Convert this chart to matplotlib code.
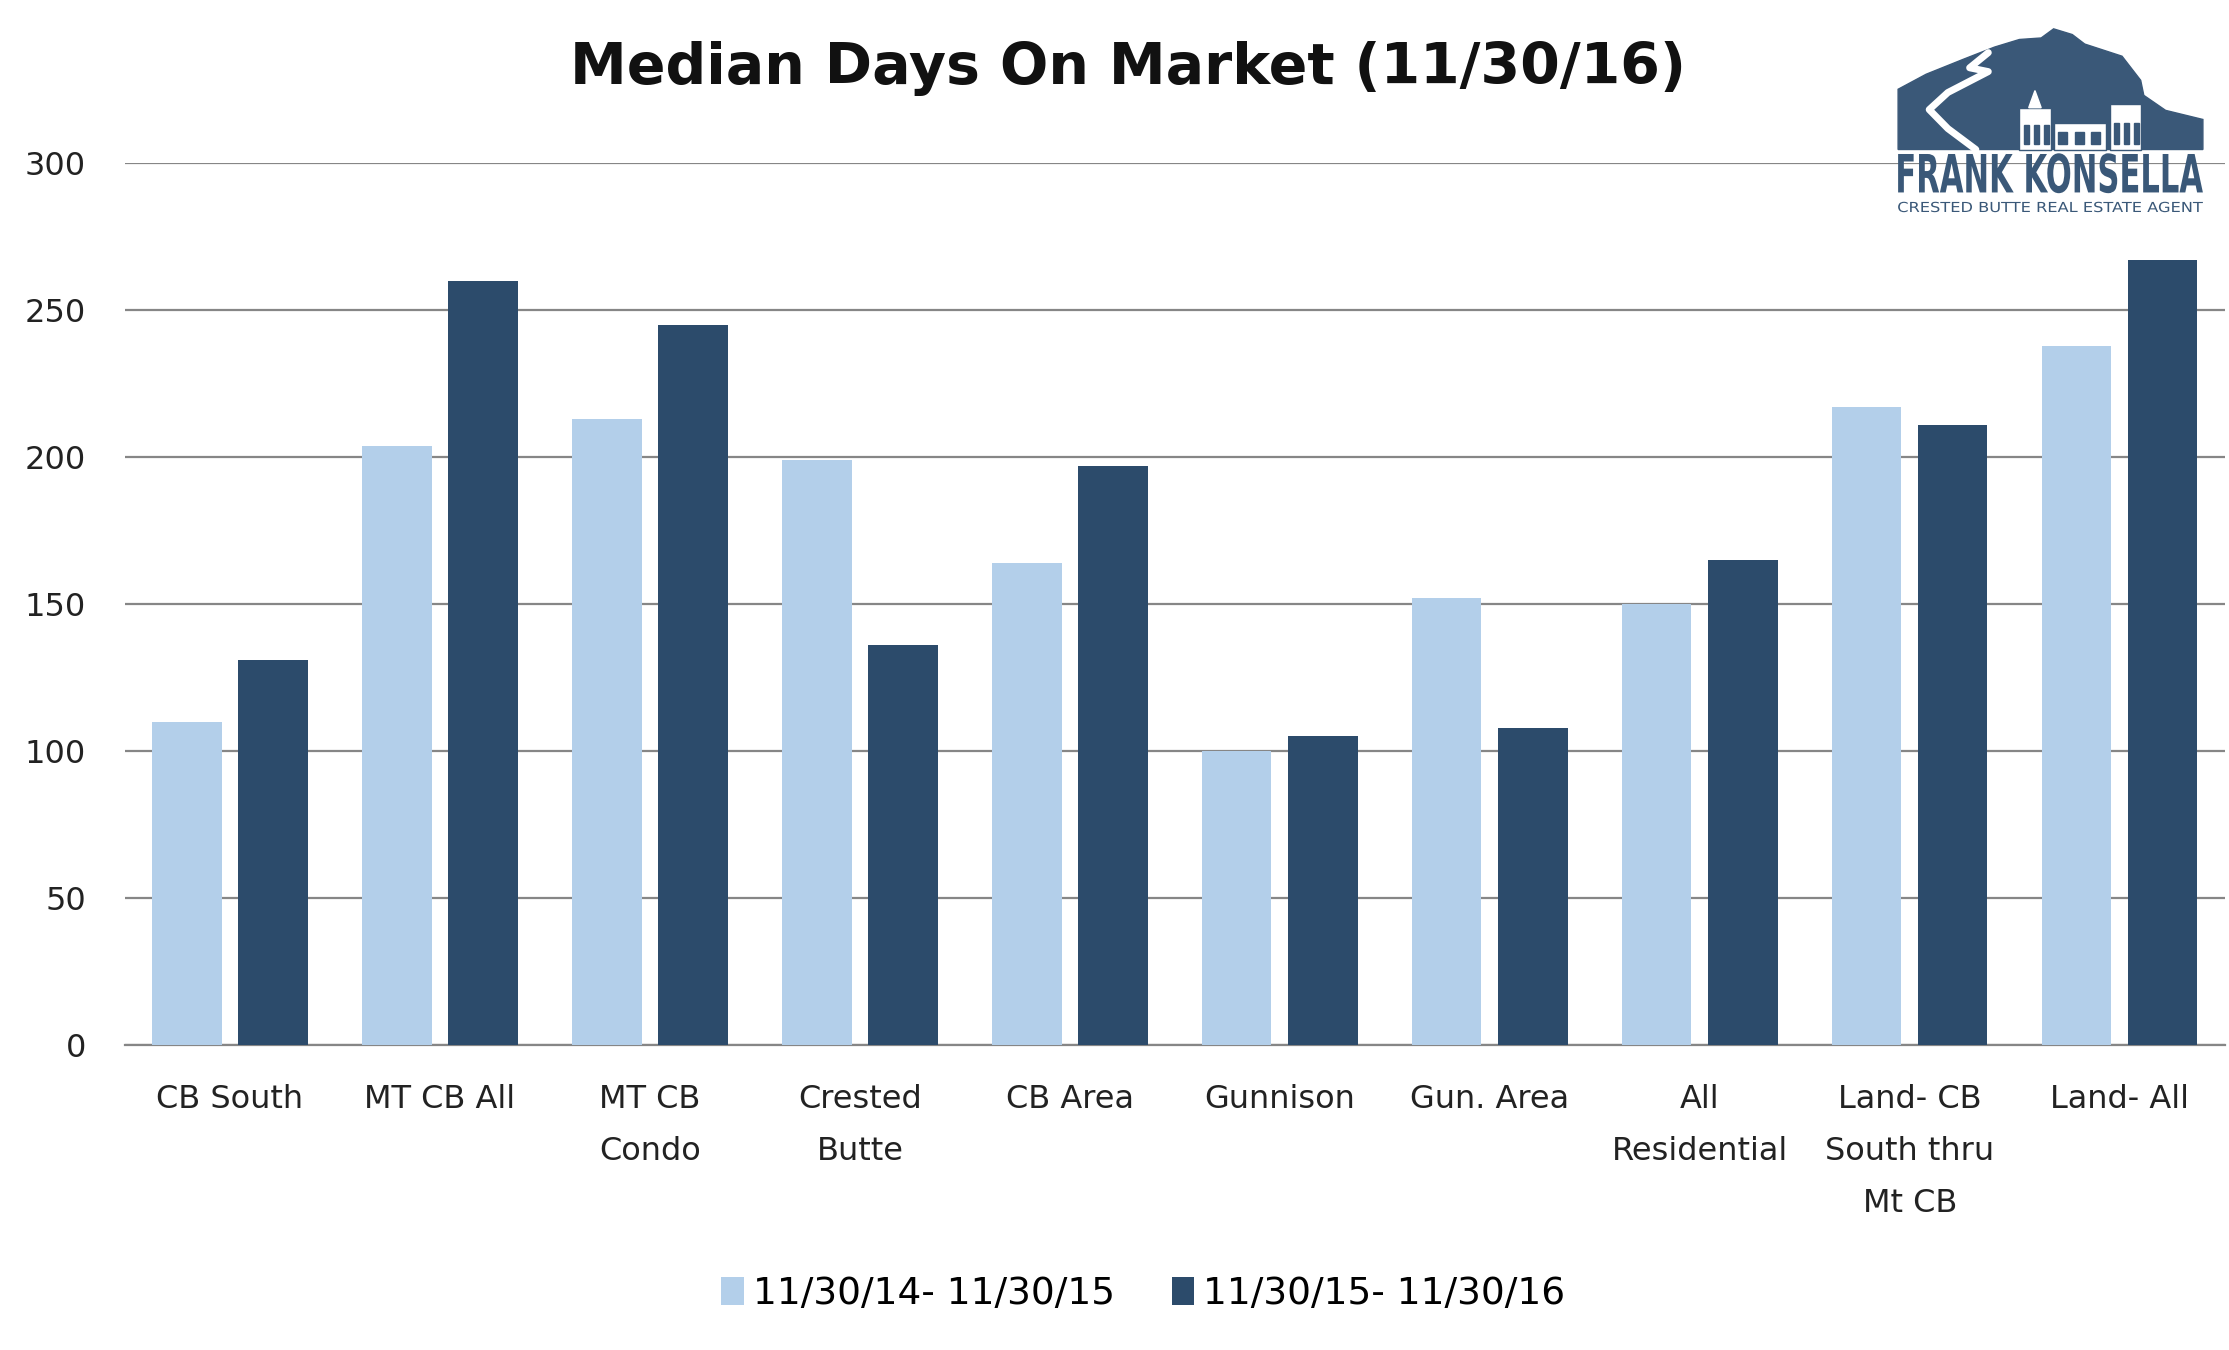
import matplotlib
matplotlib.use("Agg")
import matplotlib.pyplot as plt
import numpy as np
from matplotlib.patches import Polygon, Rectangle, PathPatch
from matplotlib.textpath import TextPath
from matplotlib.font_manager import FontProperties
from matplotlib.transforms import Affine2D

categories = ["CB South", "MT CB All", "MT CB\nCondo", "Crested\nButte", "CB Area",
              "Gunnison", "Gun. Area", "All\nResidential", "Land- CB\nSouth thru\nMt CB",
              "Land- All"]
prev_year = [110, 204, 213, 199, 164, 100, 152, 150, 217, 238]
this_year = [131, 260, 245, 136, 197, 105, 108, 165, 211, 267]
series_labels = ["11/30/14- 11/30/15", "11/30/15- 11/30/16"]
yticks = [0, 50, 100, 150, 200, 250, 300]

light = "#b3cfea"
dark = "#2c4b6b"
logo_blue = "#3a5878"

plt.rcParams['font.family'] = ['DejaVu Sans']


def fitted_text(axis, s, x0, x1, y0, y1, bold=False):
    # text drawn as a path, stretched to fill a box (logo lettering is condensed)
    fp = FontProperties(family="DejaVu Sans", weight="bold" if bold else "normal")
    tp = TextPath((0, 0), s, size=1, prop=fp)
    ext = tp.get_extents()
    tr = (Affine2D().translate(-ext.x0, -ext.y0)
          .scale((x1 - x0) / ext.width, (y1 - y0) / ext.height)
          .translate(x0, y0))
    axis.add_patch(PathPatch(tr.transform_path(tp), color=logo_blue, lw=0, zorder=5))


fig = plt.figure(figsize=(22.29, 13.5), dpi=100)
ax = fig.add_axes([0.0561, 0.2259, 0.942, 0.653])

x = np.arange(len(categories))
w = 0.33
b1 = ax.bar(x - 0.205, prev_year, w, color=light, zorder=3, label=series_labels[0])
b2 = ax.bar(x + 0.205, this_year, w, color=dark, zorder=3, label=series_labels[1])

ax.set_xlim(-0.5, len(categories) - 0.5)
ax.set_ylim(0, 300)
ax.set_yticks(yticks)
ax.set_yticklabels([str(v) for v in yticks], fontsize=23, color="#222222")
ax.set_xticks(x)
ax.set_xticklabels(categories, fontsize=23, color="#222222", linespacing=1.88)
ax.tick_params(axis="both", length=0)
ax.tick_params(axis="y", pad=28)
ax.tick_params(axis="x", pad=28)
ax.yaxis.grid(True, color="#868686", linewidth=1.6, zorder=0)
for s in ["top", "right", "left"]:
    ax.spines[s].set_visible(False)
ax.spines["bottom"].set_color("#868686")
ax.spines["bottom"].set_linewidth(1.6)

fig.text(0.506, 0.949, "Median Days On Market (11/30/16)", ha="center", va="center",
         fontsize=41, fontweight="bold", color="#111111")

fig.legend(handles=[b1, b2], labels=series_labels, loc="center",
           bbox_to_anchor=(0.513, 0.0415), ncol=2, frameon=False, fontsize=27,
           handlelength=0.6, handleheight=0.8, handletextpad=0.25, columnspacing=1.5)

# logo
lg = fig.add_axes([1895 / 2229, 1 - 216 / 1350, 311 / 2229, 190 / 1350])
lg.set_xlim(0, 1)
lg.set_ylim(0, 1)
lg.axis("off")
mountain = [(0.01, 0.35), (0.01, 0.667), (0.10, 0.746), (0.22, 0.825), (0.32, 0.889),
            (0.40, 0.929), (0.47, 0.937), (0.51, 0.985), (0.57, 0.955), (0.61, 0.905),
            (0.67, 0.873), (0.73, 0.841), (0.79, 0.714), (0.80, 0.635), (0.87, 0.556),
            (0.99, 0.508), (0.99, 0.35)]
lg.add_patch(Polygon(mountain, closed=True, color=logo_blue, zorder=1))
road_x = [0.30, 0.24, 0.30, 0.17, 0.11, 0.17, 0.26]
road_y = [0.86, 0.78, 0.76, 0.65, 0.56, 0.46, 0.35]
lg.plot(road_x, road_y, color="white", linewidth=5, solid_capstyle="round", zorder=2)
for (bx, by, bw, bh) in [(0.40, 0.35, 0.10, 0.22), (0.51, 0.35, 0.17, 0.14), (0.69, 0.35, 0.10, 0.24)]:
    lg.add_patch(Rectangle((bx, by), bw, bh, facecolor="white", edgecolor=logo_blue, lw=1, zorder=3))
    for k in range(3):
        lg.add_patch(Rectangle((bx + 0.015 + k * bw / 3.2, by + 0.03), bw / 6, bh * 0.45,
                               color=logo_blue, zorder=4))
lg.add_patch(Polygon([(0.43, 0.57), (0.45, 0.66), (0.47, 0.57)], color="white", zorder=3))
fitted_text(lg, "FRANK KONSELLA", 0.01, 0.99, 0.12, 0.33, bold=True)
fitted_text(lg, "CRESTED BUTTE REAL ESTATE AGENT", 0.01, 0.99, 0.02, 0.075)

fig.savefig("out.png", dpi=100, facecolor="white")
